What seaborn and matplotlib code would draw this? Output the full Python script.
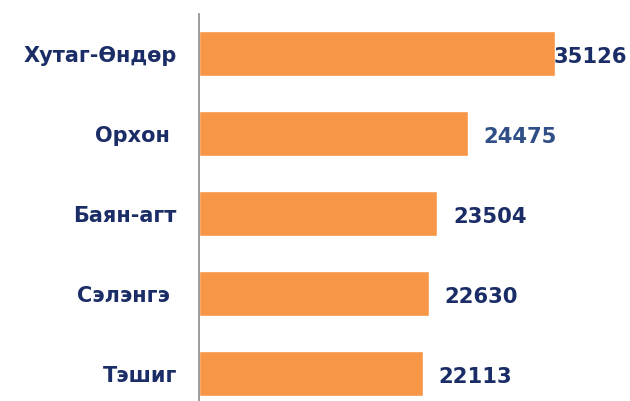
import numpy as np
import pandas as pd
import matplotlib
matplotlib.use("Agg")
import matplotlib.pyplot as plt
import seaborn as sns

# Data
sums = ['Хутаг-Өндөр', 'Орхон ', 'Баян-агт', 'Сэлэнгэ ', 'Тэшиг']
# bar lengths as drawn (the Орхон bar is drawn longer than its label)
bar_values = [35126, 26520, 23504, 22630, 22113]
value_labels = ['35126', '24475', '23504', '22630', '22113']
label_colors = ['#1B2D66', '#2F4F86', '#1B2D66', '#1B2D66', '#1B2D66']
label_offsets = [-2, 15, 16, 16, 15]   # pixels from bar end

df = pd.DataFrame({'sum': sums, 'value': bar_values})

sns.set_style('white')
# wide bold face, the reference text is rather stretched
plt.rcParams['font.family'] = ['DejaVu Sans']

fig = plt.figure(figsize=(6.30, 4.01), dpi=100)
ax = fig.add_axes([199 / 630, 0.0, 431 / 630, 387 / 401])

sns.barplot(data=df, y='sum', x='value', orient='h', color='#F79646',
            saturation=1, width=0.5625, ax=ax)

ax.set_xlim(0, 431 / 0.010144)
ax.set_ylim(4.34, -0.5)
ax.set_xlabel('')
ax.set_ylabel('')
ax.set_xticks([])
for s in ['top', 'right', 'bottom']:
    ax.spines[s].set_visible(False)
ax.spines['left'].set_color('#8C8C8C')
ax.spines['left'].set_linewidth(1.2)

ax.tick_params(axis='y', length=0, pad=16)
for t in ax.get_yticklabels():
    t.set_fontsize(15)
    t.set_fontweight('heavy')
    t.set_color('#1B2D66')

# value labels
for i, (v, lab, c, off) in enumerate(zip(bar_values, value_labels, label_colors, label_offsets)):
    ax.annotate(lab, xy=(v, i + 0.04), xytext=(off * 0.72, 0), textcoords='offset points',
                ha='left', va='center', fontsize=15.2, fontweight='heavy', color=c)

fig.savefig('out.png', dpi=100)
